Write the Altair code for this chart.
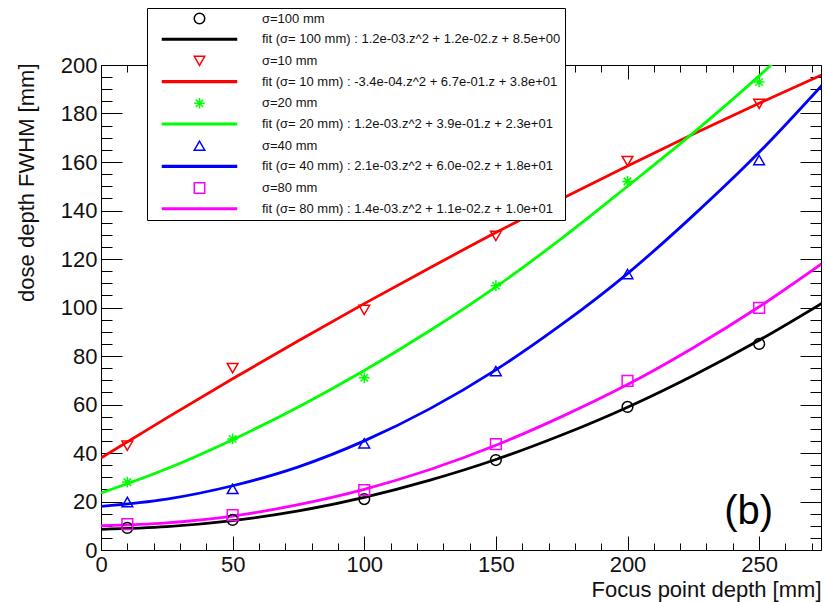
import altair as alt
import pandas as pd

# ---- data ----
# fitted curves, read every 25 mm of focus point depth
fit_z = [0, 25, 50, 75, 100, 125, 150, 175, 200, 225, 250, 275]
fit_s100 = [8.5, 9.6, 12.1, 16.1, 21.7, 28.8, 37.3, 47.4, 58.9, 72.0, 86.5, 102.5]
fit_s10 = [38.0, 54.5, 70.6, 86.3, 101.6, 116.4, 130.9, 144.8, 158.4, 171.5, 184.2, 196.5]
fit_s20 = [23.5, 33.5, 45.5, 59.0, 74.0, 90.5, 108.5, 128.5, 150.0, 172.0, 195.5, 221.0]
fit_s40 = [18.0, 21.0, 26.5, 34.3, 45.0, 58.3, 74.3, 93.0, 114.0, 138.0, 164.0, 193.0]
fit_s80 = [10.0, 11.2, 14.0, 18.7, 25.0, 33.2, 43.2, 55.0, 68.2, 83.4, 100.3, 119.0]

# measured points
meas_z = [10, 50, 100, 150, 200, 250]
meas_s100 = [9.1, 12.4, 21.0, 37.1, 59.0, 85.0]
meas_s10 = [43.0, 75.0, 99.0, 129.5, 160.4, 184.0]
meas_s20 = [28.0, 45.8, 71.0, 109.0, 152.0, 193.0]
meas_s40 = [19.8, 25.2, 44.0, 73.8, 113.8, 160.8]
meas_s80 = [10.7, 14.4, 24.7, 43.7, 69.7, 99.8]

series_names = ["σ=100 mm", "σ=10 mm", "σ=20 mm", "σ=40 mm", "σ=80 mm"]
fit_names = [
    "fit (σ= 100 mm) : 1.2e-03.z^2 + 1.2e-02.z + 8.5e+00",
    "fit (σ= 10 mm) : -3.4e-04.z^2 + 6.7e-01.z + 3.8e+01",
    "fit (σ= 20 mm) : 1.2e-03.z^2 + 3.9e-01.z + 2.3e+01",
    "fit (σ= 40 mm) : 2.1e-03.z^2 + 6.0e-02.z + 1.8e+01",
    "fit (σ= 80 mm) : 1.4e-03.z^2 + 1.1e-02.z + 1.0e+01",
]
series_colors = ["#000000", "#ff0000", "#00ff00", "#0000ff", "#ff00ff"]
ASTERISK = "M-1,0L1,0M0,-1L0,1M-0.7,-0.7L0.7,0.7M-0.7,0.7L0.7,-0.7"
series_shapes = ["circle", "triangle-down", ASTERISK, "triangle-up", "square"]
LINE_SYMBOL = "M-7.2,-0.15L7.2,-0.15M-7.2,0L7.2,0M-7.2,0.15L7.2,0.15"

tag_text = ["(b)"]
tag_z = [246]
tag_d = [15.5]

x_major = [0, 50, 100, 150, 200, 250]
x_minor = list(range(0, 280, 10))
y_major = list(range(0, 201, 20))
y_minor = list(range(0, 201, 5))

# ---- tables ----
fit_vals = [fit_s100, fit_s10, fit_s20, fit_s40, fit_s80]
meas_vals = [meas_s100, meas_s10, meas_s20, meas_s40, meas_s80]
fit_rows, meas_rows = [], []
for i in range(5):
    for z, v in zip(fit_z, fit_vals[i]):
        fit_rows.append({"z": z, "d": v, "entry": fit_names[i]})
    for z, v in zip(meas_z, meas_vals[i]):
        meas_rows.append({"z": z, "d": v, "entry": series_names[i]})
fit_df = pd.DataFrame(fit_rows)
meas_df = pd.DataFrame(meas_rows)
tag_df = pd.DataFrame({"z": tag_z, "d": tag_d, "t": tag_text})

legend_domain, legend_colors, legend_shapes = [], [], []
for i in range(5):
    legend_domain += [series_names[i], fit_names[i]]
    legend_colors += [series_colors[i], series_colors[i]]
    legend_shapes += [series_shapes[i], LINE_SYMBOL]

W, H = 720, 485
FONT = "Liberation Sans"
xscale = alt.Scale(domain=[0, 273.5], nice=False, zero=False)
yscale = alt.Scale(domain=[0, 200], nice=False, zero=False)
cscale = alt.Scale(domain=legend_domain, range=legend_colors)
sscale = alt.Scale(domain=legend_domain, range=legend_shapes)

legend = alt.Legend(
    title=None, orient="none", legendX=46, legendY=-57, direction="vertical",
    fillColor="white", strokeColor="black", padding=4,
    symbolSize=110, symbolStrokeWidth=1.5, symbolOffset=42, labelOffset=56,
    symbolFillColor="transparent",
    labelFont=FONT, labelFontSize=13, labelColor="#111", labelLimit=500,
    rowPadding=5.7, labelExpr="datum.label + '          '",
)

def tick_axis(orient, offset, values, size, domain=False):
    return alt.Axis(orient=orient, offset=offset, values=values, tickSize=size,
                    ticks=True, tickColor="black", tickWidth=1, labels=False,
                    domain=domain, domainColor="black", domainWidth=1,
                    grid=False, title=None)

x_main = alt.Axis(orient="bottom", values=x_major, ticks=False, tickSize=0,
                  domain=True, domainColor="black", domainWidth=1, grid=False,
                  labelFont=FONT, labelFontSize=22, labelColor="#111", labelPadding=4,
                  labelFlush=False, labelOverlap=False,
                  title="Focus point depth [mm]", titleFont=FONT, titleFontSize=22,
                  titleFontWeight="normal", titleColor="#111", titleX=W, titleY=46,
                  titleAlign="right", titleBaseline="alphabetic", titleAnchor="end")
y_main = alt.Axis(orient="left", values=y_major, ticks=False, tickSize=0,
                  domain=True, domainColor="black", domainWidth=1, grid=False,
                  labelFont=FONT, labelFontSize=22, labelColor="#111", labelPadding=4,
                  labelFlush=False, labelOverlap=False,
                  title="dose depth FWHM [mm]", titleFont=FONT, titleFontSize=22,
                  titleFontWeight="normal", titleColor="#111", titleX=-75, titleY=-2,
                  titleAngle=270, titleAlign="right", titleBaseline="middle")

lines = alt.Chart(fit_df).mark_line(strokeWidth=2.8, clip=True, interpolate="monotone").encode(
    x=alt.X("z:Q", scale=xscale, axis=x_main),
    y=alt.Y("d:Q", scale=yscale, axis=y_main),
    color=alt.Color("entry:N", scale=cscale, legend=legend),
    detail="entry:N",
)

points = alt.Chart(meas_df).mark_point(filled=False, size=115, strokeWidth=1.5, opacity=1).encode(
    x=alt.X("z:Q", scale=xscale, axis=tick_axis("top", -H, x_major, 14)),
    y=alt.Y("d:Q", scale=yscale, axis=tick_axis("right", -W, y_major, 21)),
    color=alt.Color("entry:N", scale=cscale, legend=legend),
    shape=alt.Shape("entry:N", scale=sscale, legend=legend),
)

tag = alt.Chart(tag_df).mark_text(font=FONT, fontSize=40, align="center", baseline="middle",
                                  color="black").encode(
    x=alt.X("z:Q", scale=xscale, axis=tick_axis("top", -H, x_minor, 7)),
    y=alt.Y("d:Q", scale=yscale, axis=tick_axis("right", -W, y_minor, 11)),
    text="t:N",
)

frame_major = alt.Chart(meas_df).mark_point(opacity=0).encode(
    x=alt.X("z:Q", scale=xscale, axis=tick_axis("bottom", -H, x_major, 14, domain=True)),
    y=alt.Y("d:Q", scale=yscale, axis=tick_axis("left", -W, y_major, 21, domain=True)),
)
frame_minor = alt.Chart(meas_df).mark_point(opacity=0).encode(
    x=alt.X("z:Q", scale=xscale, axis=tick_axis("bottom", -H, x_minor, 7)),
    y=alt.Y("d:Q", scale=yscale, axis=tick_axis("left", -W, y_minor, 11)),
)

chart = alt.layer(lines, points, tag, frame_major, frame_minor).resolve_axis(
    x="independent", y="independent"
).properties(
    width=W, height=H, autosize="none",
    padding={"left": 101, "top": 65, "right": 4, "bottom": 52},
    background="white",
).configure_view(stroke=None)

chart.save("out.html", embed_options={"renderer": "svg", "actions": False})
